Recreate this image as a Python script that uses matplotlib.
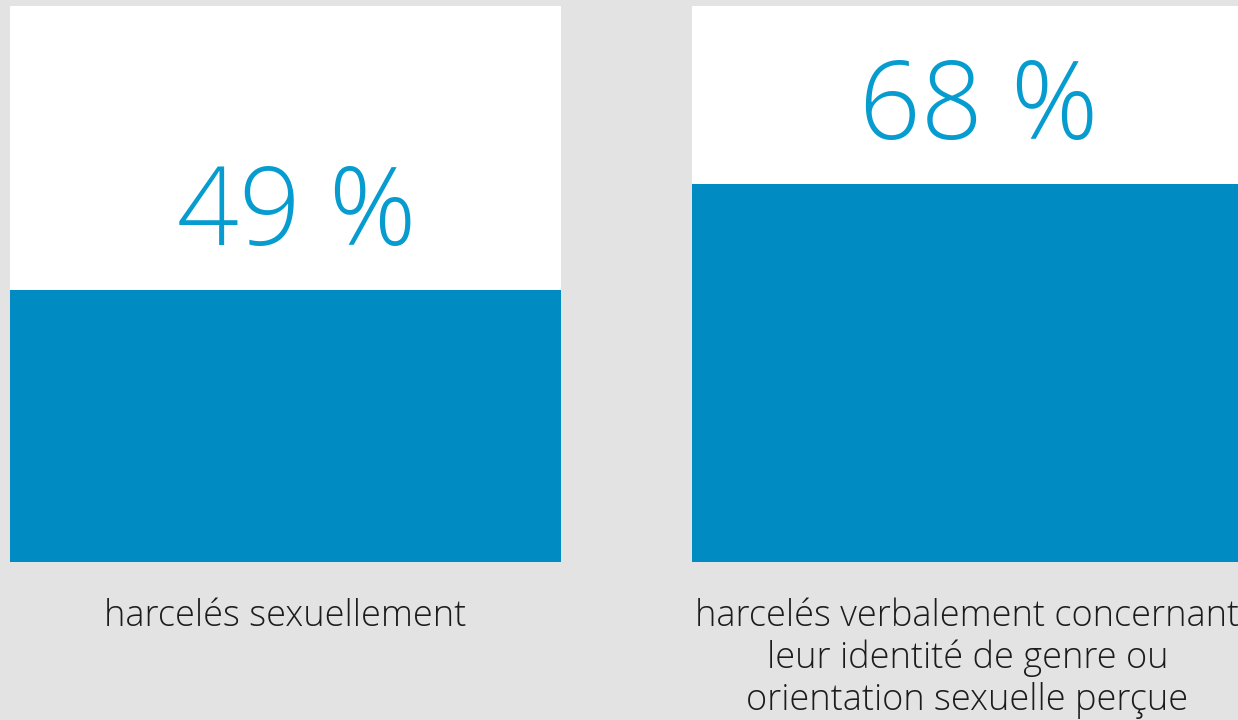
import matplotlib
matplotlib.use("Agg")
import matplotlib.pyplot as plt

# Survey shares (percent)
values = [49, 68]
value_labels = ["49 %", "68 %"]
captions = [
    "harcelés sexuellement",
    "harcelés verbalement concernant\nleur identité de genre ou\norientation sexuelle perçue",
]

BG = "#e3e3e3"
BLUE = "#008cc2"
TEXT_BLUE = "#069ccf"
DARK = "#1c1c1c"
FONT = ["Open Sans", "DejaVu Sans"]

W, H = 1238, 720
fig = plt.figure(figsize=(W / 100, H / 100), dpi=100, facecolor=BG)

# panel left edges in pixels; panel size in pixels
lefts = [10, 692]
pw, ph = 551, 556
bottom_px = 562

for left, v, lab, cap in zip(lefts, values, value_labels, captions):
    ax = fig.add_axes([left / W, (H - bottom_px) / H, pw / W, ph / H])
    ax.set_facecolor("white")
    ax.bar([0], [v], width=1.0, color=BLUE, align="center")
    ax.set_xlim(-0.5, 0.5)
    ax.set_ylim(0, 100)
    ax.axis("off")
    ax.add_patch(plt.Rectangle((-0.5, 0), 1, 100, color="white", zorder=0))
    ax.text(0.02, v + 8, lab, ha="center", va="baseline", fontsize=78,
            color=TEXT_BLUE, family=FONT, fontweight="light")
    fig.text((left + pw / 2) / W, 1 - 598 / H, cap, ha="center", va="top",
             fontsize=26, color=DARK, family=FONT, fontweight="light",
             linespacing=1.17)

fig.savefig("out.png", dpi=100, facecolor=BG)
